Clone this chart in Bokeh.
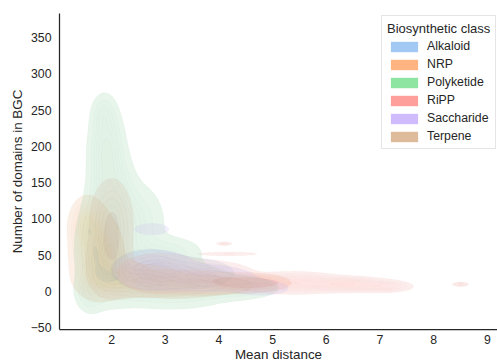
import math
import numpy as np
from bokeh.plotting import figure
from bokeh.models import Range1d, FixedTicker, Legend, LegendItem, ColumnDataSource
from bokeh.embed import file_html
from bokeh.resources import INLINE

# ---------------- data ----------------
classes = ["Alkaloid", "NRP", "Polyketide", "RiPP", "Saccharide", "Terpene"]
colors = ["#a1c9f4", "#ffb482", "#8de5a1", "#ff9f9b", "#d0bbff", "#debb9b"]
x_ticks = [2, 3, 4, 5, 6, 7, 8, 9]
y_ticks = [-50, 0, 50, 100, 150, 200, 250, 300, 350]

# kernel centres (mean distance, domains), spreads and weights
alkaloid_x = [2.7, 3.5]
alkaloid_y = [30, 25]
alkaloid_sx = [0.35, 0.45]
alkaloid_sy = [14, 12]
alkaloid_w = [0.028, 0.018]

nrp_x = [1.72, 1.55, 2.05, 3.2, 4.5]
nrp_y = [50, 92, 18, 10, 12]
nrp_sx = [0.22, 0.16, 0.3, 0.5, 0.6]
nrp_sy = [26, 18, 12, 10, 10]
nrp_w = [0.07, 0.027, 0.04, 0.025, 0.012]

polyketide_x = [1.95, 2.0, 1.9, 1.85, 2.55, 2.45, 3.3, 3.1, 4.3, 1.6]
polyketide_y = [60, 120, 198, 245, 25, 95, 8, 55, 5, 0]
polyketide_sx = [0.28, 0.22, 0.17, 0.12, 0.4, 0.3, 0.5, 0.35, 0.45, 0.15]
polyketide_sy = [35, 40, 32, 14, 20, 30, 16, 12, 9, 15]
polyketide_w = [0.10, 0.07, 0.035, 0.005, 0.06, 0.03, 0.04, 0.01, 0.015, 0.01]

ripp_x = [4.5, 3.8, 5.4, 6.4, 7.1, 2.9, 8.5, 4.1, 4.2]
ripp_y = [12, 20, 12, 10, 7, 25, 10, 66, 52]
ripp_sx = [0.3, 0.4, 0.45, 0.4, 0.25, 0.4, 0.08, 0.08, 0.35]
ripp_sy = [4.5, 10, 7, 5, 4, 14, 1.5, 1.2, 1.6]
ripp_w = [0.05, 0.04, 0.03, 0.02, 0.006, 0.03, 0.0006, 0.0004, 0.0012]

saccharide_x = [2.8, 3.8, 2.75, 4.8]
saccharide_y = [30, 18, 86, 5]
saccharide_sx = [0.4, 0.5, 0.25, 0.3]
saccharide_sy = [14, 10, 6, 6]
saccharide_w = [0.028, 0.018, 0.0025, 0.005]

terpene_x = [2.0, 1.95, 2.6, 3.6]
terpene_y = [95, 38, 15, 8]
terpene_sx = [0.2, 0.2, 0.4, 0.6]
terpene_sy = [30, 22, 12, 8]
terpene_w = [0.035, 0.03, 0.02, 0.015]

kernels = [
    (alkaloid_x, alkaloid_y, alkaloid_sx, alkaloid_sy, alkaloid_w),
    (nrp_x, nrp_y, nrp_sx, nrp_sy, nrp_w),
    (polyketide_x, polyketide_y, polyketide_sx, polyketide_sy, polyketide_w),
    (ripp_x, ripp_y, ripp_sx, ripp_sy, ripp_w),
    (saccharide_x, saccharide_y, saccharide_sx, saccharide_sy, saccharide_w),
    (terpene_x, terpene_y, terpene_sx, terpene_sy, terpene_w),
]

# ---------------- husl colour ramp (as seaborn) ----------------
_m = [[3.2406, -1.5372, -0.4986], [-0.9689, 1.8758, 0.0415], [0.0557, -0.2040, 1.0570]]
_m_inv = [[0.4124, 0.3576, 0.1805], [0.2126, 0.7152, 0.0722], [0.0193, 0.1192, 0.9505]]
_refY, _refU, _refV = 1.0, 0.19784, 0.46834
_lab_e, _lab_k = 0.008856, 903.3


def _max_chroma(L, H):
    hrad = math.radians(H)
    sinH, cosH = math.sin(hrad), math.cos(hrad)
    sub1 = (L + 16) ** 3 / 1560896.0
    sub2 = sub1 if sub1 > 0.008856 else L / 903.3
    result = float("inf")
    for m1, m2, m3 in _m:
        top = (0.99915 * m1 + 1.05122 * m2 + 1.14460 * m3) * sub2
        rbottom = 0.86330 * m3 - 0.17266 * m2
        lbottom = 0.12949 * m3 - 0.38848 * m1
        bottom = (rbottom * sinH + lbottom * cosH) * sub2
        for t in (0.0, 1.0):
            C = L * (top - 1.05122 * t) / (bottom + 0.17266 * sinH * t)
            if 0.0 < C < result:
                result = C
    return result


def _f(t):
    return t ** (1 / 3) if t > _lab_e else 7.787 * t + 16 / 116


def _f_inv(t):
    return t ** 3 if t ** 3 > _lab_e else (116 * t - 16) / _lab_k


def _to_lin(c):
    return ((c + 0.055) / 1.055) ** 2.4 if c > 0.04045 else c / 12.92


def _from_lin(c):
    return 12.92 * c if c <= 0.0031308 else 1.055 * c ** (1 / 2.4) - 0.055


def rgb_to_husl(r, g, b):
    rgb = [_to_lin(c) for c in (r, g, b)]
    X, Y, Z = [sum(a * b for a, b in zip(row, rgb)) for row in _m_inv]
    d = X + 15 * Y + 3 * Z
    varU, varV = 4 * X / d, 9 * Y / d
    L = 116 * _f(Y / _refY) - 16
    U, V = 13 * L * (varU - _refU), 13 * L * (varV - _refV)
    C = math.hypot(U, V)
    H = math.degrees(math.atan2(V, U)) % 360
    S = C / _max_chroma(L, H) * 100
    return H, S, L


def husl_to_rgb(H, S, L):
    C = _max_chroma(L, H) / 100 * S
    U, V = math.cos(math.radians(H)) * C, math.sin(math.radians(H)) * C
    Y = _f_inv((L + 16) / 116) * _refY
    varU, varV = U / (13 * L) + _refU, V / (13 * L) + _refV
    X = 0 - (9 * Y * varU) / ((varU - 4) * varV - varU * varV)
    Z = (9 * Y - 15 * varV * Y - varV * X) / (3 * varV)
    return [min(1, max(0, _from_lin(sum(a * b for a, b in zip(row, (X, Y, Z)))))) for row in _m]


def to_hex(rgb):
    return "#%02x%02x%02x" % tuple(int(round(c * 255)) for c in rgb)


def cmap_from_color(hexcolor):
    r, g, b = [int(hexcolor[i:i + 2], 16) / 255 for i in (1, 3, 5)]
    h, s, _ = rgb_to_husl(r, g, b)
    xx = np.linspace(-1, 1, int(1.15 * 256))[:256]
    ramp = [husl_to_rgb(h, s * math.cos(xx[j]), 35 + 45 * j / 255) for j in range(256)]
    return ramp[::-1]


# ---------------- densities ----------------
gx = np.linspace(0.9, 9.4, 340)
gy = np.linspace(-80, 400, 340)
GX, GY = np.meshgrid(gx, gy)


def density(xs, ys, sxs, sys_, ws):
    z = np.zeros_like(GX)
    for cx, cy, sx, sy, w in zip(xs, ys, sxs, sys_, ws):
        z += w / (2 * np.pi * sx * sy) * np.exp(-0.5 * (((GX - cx) / sx) ** 2 + ((GY - cy) / sy) ** 2))
    return z


dens = [density(*k) for k in kernels]

isoprop = np.linspace(0.05, 1, 10)
allv = np.concatenate([d.ravel() for d in dens])
sv = np.sort(allv)[::-1]
nv = np.cumsum(sv) / allv.sum()
levels = np.take(sv, np.searchsorted(nv, 1 - isoprop), mode="clip")
levels = np.maximum.accumulate(levels)

# ---------------- figure ----------------
p = figure(width=497, height=364, output_backend="svg", toolbar_location=None,
           x_range=Range1d(1.03, 9.19), y_range=Range1d(-52.2, 383),
           min_border_left=59, min_border_right=0, min_border_top=13, min_border_bottom=34)
p.outline_line_color = None
p.grid.visible = False
p.background_fill_color = "white"
p.border_fill_color = "white"

ALPHA = 0.23
mids = (levels[:-1] + levels[1:]) / 2
fr = (mids - levels[0]) / (levels[-1] - levels[0])
for cls, col, z in zip(classes, colors, dens):
    cmap = cmap_from_color(col)
    band_cols = [to_hex(cmap[min(int(f * 256), 255)]) for f in fr]
    p.contour(gx, gy, z, list(levels), fill_color=band_cols, fill_alpha=ALPHA,
              line_color=to_hex(cmap[200]), line_alpha=0.06, line_width=0.6)

items = []
for cls, col in zip(classes, colors):
    src = ColumnDataSource(data=dict(left=[np.nan], right=[np.nan], top=[np.nan], bottom=[np.nan]))
    r = p.quad(left="left", right="right", top="top", bottom="bottom", source=src,
               fill_color=col, line_color=None)
    items.append(LegendItem(label=cls, renderers=[r]))

FONT = "Liberation Sans"
TXT = "#262626"
for ax in (p.xaxis[0], p.yaxis[0]):
    ax.axis_line_color = TXT
    ax.axis_line_width = 1.25
    ax.major_tick_line_color = None
    ax.minor_tick_line_color = None
    ax.major_tick_out = 0
    ax.major_tick_in = 0
    ax.minor_tick_out = 0
    ax.minor_tick_in = 0
    ax.major_label_text_font = FONT
    ax.major_label_text_font_size = "12.3px"
    ax.major_label_text_color = TXT
    ax.axis_label_text_font = FONT
    ax.axis_label_text_font_size = "13.4px"
    ax.axis_label_text_font_style = "normal"
    ax.axis_label_text_color = TXT
    ax.axis_label_standoff = 0

p.xaxis.major_label_standoff = 5
p.yaxis.major_label_standoff = 8
p.yaxis.axis_label_standoff = 3
p.xaxis.ticker = FixedTicker(ticks=x_ticks)
p.yaxis.ticker = FixedTicker(ticks=y_ticks)
p.yaxis.major_label_overrides = {-50: "\u221250"}
p.xaxis.axis_label = "Mean distance"
p.yaxis.axis_label = "Number of domains in BGC"

legend = Legend(items=items, location=(322, 180), title="Biosynthetic class")
legend.title_text_font = FONT
legend.title_text_font_size = "13px"
legend.title_text_font_style = "normal"
legend.title_text_color = TXT
legend.title_standoff = 3
legend.label_text_font = FONT
legend.label_text_font_size = "12.3px"
legend.label_text_color = TXT
legend.glyph_width = 34
legend.glyph_height = 13
legend.label_height = 13
legend.label_standoff = 6
legend.spacing = 4
legend.padding = 5
legend.margin = 0
legend.border_line_color = "#cccccc"
legend.background_fill_alpha = 0.8
p.add_layout(legend)

open("out.html", "w").write(file_html(p, INLINE))
